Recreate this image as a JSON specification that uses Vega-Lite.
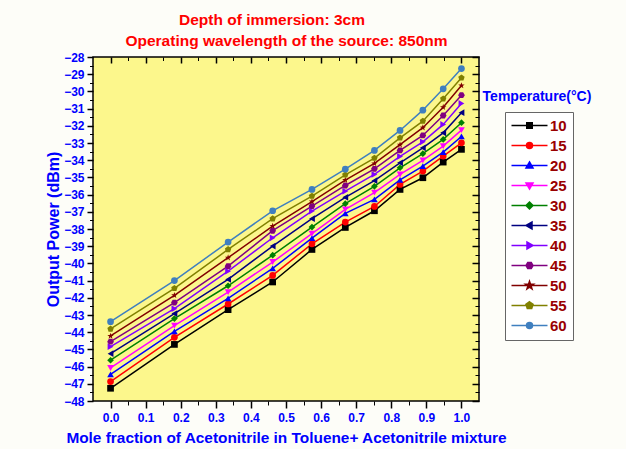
{
 "$schema": "https://vega.github.io/schema/vega-lite/v6.json",
 "width": 386,
 "height": 344,
 "autosize": {"type": "none"},
 "padding": {"left": 93, "top": 57, "right": 147, "bottom": 48},
 "background": "#FDFDF8",
 "config": {
  "view": {"fill": "#FCF78C", "stroke": "black", "strokeWidth": 1.5},
  "axis": {"grid": false, "domain": false, "tickColor": "black", "labelFont": "Liberation Sans", "labelFontWeight": "bold", "labelColor": "#0000FF", "titleColor": "#0000FF", "titleFont": "Liberation Sans", "titleFontWeight": "bold"}
 },
 "title": {"text": "Depth of immersion: 3cm", "color": "#FF0000", "font": "Liberation Sans", "fontSize": 15.5, "fontWeight": "bold", "anchor": "middle", "dx": -14, "offset": 4.5},
 "datasets": {
  "d": [
   {"T":10,"x":0,"y":-47.26},{"T":10,"x":0.182,"y":-44.71},{"T":10,"x":0.335,"y":-42.69},{"T":10,"x":0.462,"y":-41.08},{"T":10,"x":0.574,"y":-39.19},{"T":10,"x":0.669,"y":-37.91},{"T":10,"x":0.752,"y":-36.94},{"T":10,"x":0.825,"y":-35.70},{"T":10,"x":0.890,"y":-35.02},{"T":10,"x":0.948,"y":-34.11},{"T":10,"x":1,"y":-33.37},
   {"T":15,"x":0,"y":-46.87},{"T":15,"x":0.182,"y":-44.30},{"T":15,"x":0.335,"y":-42.36},{"T":15,"x":0.462,"y":-40.70},{"T":15,"x":0.574,"y":-38.86},{"T":15,"x":0.669,"y":-37.60},{"T":15,"x":0.752,"y":-36.69},{"T":15,"x":0.825,"y":-35.41},{"T":15,"x":0.890,"y":-34.63},{"T":15,"x":0.948,"y":-33.76},{"T":15,"x":1,"y":-32.99},
   {"T":20,"x":0,"y":-46.45},{"T":20,"x":0.182,"y":-43.95},{"T":20,"x":0.335,"y":-42.03},{"T":20,"x":0.462,"y":-40.29},{"T":20,"x":0.574,"y":-38.53},{"T":20,"x":0.669,"y":-37.09},{"T":20,"x":0.752,"y":-36.28},{"T":20,"x":0.825,"y":-35.14},{"T":20,"x":0.890,"y":-34.34},{"T":20,"x":0.948,"y":-33.53},{"T":20,"x":1,"y":-32.62},
   {"T":25,"x":0,"y":-46.08},{"T":25,"x":0.182,"y":-43.62},{"T":25,"x":0.335,"y":-41.67},{"T":25,"x":0.462,"y":-39.92},{"T":25,"x":0.574,"y":-38.27},{"T":25,"x":0.669,"y":-36.86},{"T":25,"x":0.752,"y":-35.89},{"T":25,"x":0.825,"y":-34.83},{"T":25,"x":0.890,"y":-34.01},{"T":25,"x":0.948,"y":-33.18},{"T":25,"x":1,"y":-32.25},
   {"T":30,"x":0,"y":-45.63},{"T":30,"x":0.182,"y":-43.21},{"T":30,"x":0.335,"y":-41.30},{"T":30,"x":0.462,"y":-39.52},{"T":30,"x":0.574,"y":-37.89},{"T":30,"x":0.669,"y":-36.53},{"T":30,"x":0.752,"y":-35.52},{"T":30,"x":0.825,"y":-34.44},{"T":30,"x":0.890,"y":-33.62},{"T":30,"x":0.948,"y":-32.79},{"T":30,"x":1,"y":-31.82},
   {"T":35,"x":0,"y":-45.25},{"T":35,"x":0.182,"y":-42.92},{"T":35,"x":0.335,"y":-40.93},{"T":35,"x":0.462,"y":-38.99},{"T":35,"x":0.574,"y":-37.40},{"T":35,"x":0.669,"y":-36.16},{"T":35,"x":0.752,"y":-35.19},{"T":35,"x":0.825,"y":-34.15},{"T":35,"x":0.890,"y":-33.28},{"T":35,"x":0.948,"y":-32.41},{"T":35,"x":1,"y":-31.24},
   {"T":40,"x":0,"y":-44.84},{"T":40,"x":0.182,"y":-42.63},{"T":40,"x":0.335,"y":-40.45},{"T":40,"x":0.462,"y":-38.51},{"T":40,"x":0.574,"y":-36.96},{"T":40,"x":0.669,"y":-35.80},{"T":40,"x":0.752,"y":-34.83},{"T":40,"x":0.825,"y":-33.78},{"T":40,"x":0.890,"y":-32.93},{"T":40,"x":0.948,"y":-31.92},{"T":40,"x":1,"y":-30.70},
   {"T":45,"x":0,"y":-44.55},{"T":45,"x":0.182,"y":-42.28},{"T":45,"x":0.335,"y":-40.16},{"T":45,"x":0.462,"y":-38.10},{"T":45,"x":0.574,"y":-36.67},{"T":45,"x":0.669,"y":-35.47},{"T":45,"x":0.752,"y":-34.50},{"T":45,"x":0.825,"y":-33.43},{"T":45,"x":0.890,"y":-32.56},{"T":45,"x":0.948,"y":-31.40},{"T":45,"x":1,"y":-30.22},
   {"T":50,"x":0,"y":-44.22},{"T":50,"x":0.182,"y":-41.86},{"T":50,"x":0.335,"y":-39.67},{"T":50,"x":0.462,"y":-37.83},{"T":50,"x":0.574,"y":-36.41},{"T":50,"x":0.669,"y":-35.16},{"T":50,"x":0.752,"y":-34.19},{"T":50,"x":0.825,"y":-33.10},{"T":50,"x":0.890,"y":-32.11},{"T":50,"x":0.948,"y":-30.92},{"T":50,"x":1,"y":-29.66},
   {"T":55,"x":0,"y":-43.81},{"T":55,"x":0.182,"y":-41.45},{"T":55,"x":0.335,"y":-39.19},{"T":55,"x":0.462,"y":-37.40},{"T":55,"x":0.574,"y":-36.09},{"T":55,"x":0.669,"y":-34.85},{"T":55,"x":0.752,"y":-33.88},{"T":55,"x":0.825,"y":-32.70},{"T":55,"x":0.890,"y":-31.73},{"T":55,"x":0.948,"y":-30.43},{"T":55,"x":1,"y":-29.21},
   {"T":60,"x":0,"y":-43.39},{"T":60,"x":0.182,"y":-41.00},{"T":60,"x":0.335,"y":-38.76},{"T":60,"x":0.462,"y":-36.94},{"T":60,"x":0.574,"y":-35.70},{"T":60,"x":0.669,"y":-34.52},{"T":60,"x":0.752,"y":-33.43},{"T":60,"x":0.825,"y":-32.27},{"T":60,"x":0.890,"y":-31.09},{"T":60,"x":0.948,"y":-29.85},{"T":60,"x":1,"y":-28.67}
  ]
 },
 "data": {"name": "d"},
 "layer": [
  {
   "mark": {"type": "line", "strokeWidth": 1.5},
   "encoding": {
    "x": {"field": "x", "type": "quantitative", "scale": {"domain": [-0.05, 1.05], "nice": false, "zero": false},
     "axis": {"orient": "bottom", "values": [0,0.1,0.2,0.3,0.4,0.5,0.6,0.7,0.8,0.9,1], "format": ".1f", "labelFontSize": 12, "tickSize": 7, "tickWidth": 1.5, "labelPadding": 4,
      "title": "Mole fraction of Acetonitrile in Toluene+ Acetonitrile mixture", "titleFontSize": 15.4, "titlePadding": 7}},
    "y": {"field": "y", "type": "quantitative", "scale": {"domain": [-48, -28], "nice": false, "zero": false},
     "axis": {"orient": "left", "values": [-48,-47,-46,-45,-44,-43,-42,-41,-40,-39,-38,-37,-36,-35,-34,-33,-32,-31,-30,-29,-28], "labelFontSize": 12, "tickSize": 6, "tickWidth": 1.5, "labelPadding": 3,
      "title": "Output Power (dBm)", "titleFontSize": 16, "titlePadding": 2}},
    "color": {"field": "T", "type": "nominal",
     "scale": {"domain": [10,15,20,25,30,35,40,45,50,55,60], "range": ["#000000","#FF0000","#0000FF","#FF00FF","#008000","#000080","#8000FF","#800080","#800000","#808000","#3F7FBF"]},
     "legend": null}
   }
  },
  {
   "mark": {"type": "point", "filled": true, "size": 45, "opacity": 1},
   "encoding": {
    "x": {"field": "x", "type": "quantitative", "scale": {"domain": [-0.05, 1.05], "nice": false, "zero": false},
     "axis": {"orient": "bottom", "values": [0.05,0.15,0.25,0.35,0.45,0.55,0.65,0.75,0.85,0.95], "labels": false, "tickSize": 4, "tickWidth": 1, "title": null}},
    "y": {"field": "y", "type": "quantitative", "scale": {"domain": [-48, -28], "nice": false, "zero": false},
     "axis": {"orient": "left", "values": [-47.5,-46.5,-45.5,-44.5,-43.5,-42.5,-41.5,-40.5,-39.5,-38.5,-37.5,-36.5,-35.5,-34.5,-33.5,-32.5,-31.5,-30.5,-29.5,-28.5], "labels": false, "tickSize": 3.5, "tickWidth": 1, "title": null}},
    "color": {"field": "T", "type": "nominal",
     "scale": {"domain": [10,15,20,25,30,35,40,45,50,55,60], "range": ["#000000","#FF0000","#0000FF","#FF00FF","#008000","#000080","#8000FF","#800080","#800000","#808000","#3F7FBF"]},
     "legend": null},
    "shape": {"field": "T", "type": "nominal",
     "scale": {"domain": [10,15,20,25,30,35,40,45,50,55,60], "range": ["square","circle","triangle-up","triangle-down","diamond","triangle-left","triangle-right","M1,0L0.5,0.866L-0.5,0.866L-1,0L-0.5,-0.866L0.5,-0.866Z","M0,-1L0.235,-0.324L0.951,-0.309L0.38,0.124L0.588,0.809L0,0.4L-0.588,0.809L-0.38,0.124L-0.951,-0.309L-0.235,-0.324Z","M0,-1L0.951,-0.309L0.588,0.809L-0.588,0.809L-0.951,-0.309Z","circle"]},
     "legend": null}
   }
  },
  {
   "transform": [{"filter": "false"}],
   "mark": {"type": "point", "filled": false, "opacity": 1, "strokeWidth": 1.5},
   "encoding": {
    "x": {"field": "x", "type": "quantitative", "scale": {"domain": [-0.05, 1.05], "nice": false, "zero": false},
     "axis": {"orient": "top", "values": [0,0.1,0.2,0.3,0.4,0.5,0.6,0.7,0.8,0.9,1], "labels": false, "tickSize": -6, "tickWidth": 1.5,
      "title": "Operating wavelength of the source: 850nm", "titleColor": "#FF0000", "titleFontSize": 15.5, "titleY": -12, "titleBaseline": "alphabetic"}},
    "y": {"field": "y", "type": "quantitative", "scale": {"domain": [-48, -28], "nice": false, "zero": false},
     "axis": {"orient": "right", "values": [-48,-47,-46,-45,-44,-43,-42,-41,-40,-39,-38,-37,-36,-35,-34,-33,-32,-31,-30,-29,-28], "labels": false, "tickSize": -7, "tickWidth": 1.5,
      "title": "Temperature(°C)", "titleAngle": 0, "titleX": 57.5, "titleY": 43, "titleAlign": "center", "titleBaseline": "alphabetic", "titleFontSize": 14}},
    "color": {"field": "T", "type": "nominal",
     "scale": {"domain": [10,15,20,25,30,35,40,45,50,55,60], "range": ["#000000","#FF0000","#0000FF","#FF00FF","#008000","#000080","#8000FF","#800080","#800000","#808000","#3F7FBF"]},
     "legend": {"title": null, "orient": "none", "legendX": 412, "legendY": 55, "padding": 6, "strokeColor": "#666666", "fillColor": "white",
      "symbolSize": 100, "symbolOffset": 11, "symbolStrokeWidth": 1.5, "labelOffset": 13, "rowPadding": 4,
      "labelFont": "Liberation Sans", "labelFontWeight": "bold", "labelFontSize": 15, "labelColor": "#990000"}},
    "shape": {"field": "T", "type": "nominal",
     "scale": {"domain": [10,15,20,25,30,35,40,45,50,55,60], "range": [
      "M-3.6,0H3.6M-0.55,-0.55H0.55V0.55H-0.55ZM-0.3,-0.3H0.3V0.3H-0.3ZM-0.05,-0.05H0.05V0.05H-0.05Z",
      "M-3.6,0H3.6M0.6,0A0.6,0.6,0,1,1,-0.6,0A0.6,0.6,0,1,1,0.6,0ZM0.35,0A0.35,0.35,0,1,1,-0.35,0A0.35,0.35,0,1,1,0.35,0ZM0.1,0A0.1,0.1,0,1,1,-0.1,0A0.1,0.1,0,1,1,0.1,0Z",
      "M-3.6,0H3.6M0,-0.7L0.7,0.5L-0.7,0.5ZM0,-0.26L0.315,0.28L-0.315,0.28ZM0,0.06L0.035,0.12L-0.035,0.12Z",
      "M-3.6,0H3.6M0,0.7L0.7,-0.5L-0.7,-0.5ZM0,0.26L0.315,-0.28L-0.315,-0.28ZM0,-0.06L0.035,-0.12L-0.035,-0.12Z",
      "M-3.6,0H3.6M0,-0.7L0.7,0L0,0.7L-0.7,0ZM0,-0.35L0.35,0L0,0.35L-0.35,0ZM0,-0.07L0.07,0L0,0.07L-0.07,0Z",
      "M-3.6,0H3.6M-0.7,0L0.5,-0.7L0.5,0.7ZM-0.26,0L0.28,-0.315L0.28,0.315ZM0.06,0L0.12,-0.035L0.12,0.035Z",
      "M-3.6,0H3.6M0.7,0L-0.5,-0.7L-0.5,0.7ZM0.26,0L-0.28,-0.315L-0.28,0.315ZM-0.06,0L-0.12,-0.035L-0.12,0.035Z",
      "M-3.6,0H3.6M0.7,0L0.35,0.606L-0.35,0.606L-0.7,0L-0.35,-0.606L0.35,-0.606ZM0.385,0L0.193,0.333L-0.193,0.333L-0.385,0L-0.193,-0.333L0.193,-0.333ZM0.105,0L0.053,0.091L-0.053,0.091L-0.105,0L-0.053,-0.091L0.053,-0.091Z",
      "M-3.6,0H3.6M0,-0.85L0.2,-0.275L0.808,-0.263L0.323,0.105L0.5,0.688L0,0.34L-0.5,0.688L-0.323,0.105L-0.808,-0.263L-0.2,-0.275ZM0,-0.34L0.08,-0.11L0.323,-0.105L0.129,0.042L0.2,0.275L0,0.136L-0.2,0.275L-0.129,0.042L-0.323,-0.105L-0.08,-0.11Z",
      "M-3.6,0H3.6M0,-0.75L0.713,-0.232L0.441,0.607L-0.441,0.607L-0.713,-0.232ZM0,-0.413L0.392,-0.127L0.243,0.334L-0.243,0.334L-0.392,-0.127ZM0,-0.113L0.107,-0.035L0.066,0.091L-0.066,0.091L-0.107,-0.035Z",
      "M-3.6,0H3.6M0.6,0A0.6,0.6,0,1,1,-0.6,0A0.6,0.6,0,1,1,0.6,0ZM0.35,0A0.35,0.35,0,1,1,-0.35,0A0.35,0.35,0,1,1,0.35,0ZM0.1,0A0.1,0.1,0,1,1,-0.1,0A0.1,0.1,0,1,1,0.1,0Z"]},
     "legend": {"title": null, "orient": "none", "legendX": 412, "legendY": 55, "padding": 6, "strokeColor": "#666666", "fillColor": "white",
      "symbolSize": 100, "symbolOffset": 11, "symbolStrokeWidth": 1.5, "labelOffset": 13, "rowPadding": 4,
      "labelFont": "Liberation Sans", "labelFontWeight": "bold", "labelFontSize": 15, "labelColor": "#990000"}}
   }
  },
  {
   "transform": [{"filter": "false"}],
   "mark": {"type": "point"},
   "encoding": {
    "x": {"field": "x", "type": "quantitative", "scale": {"domain": [-0.05, 1.05], "nice": false, "zero": false},
     "axis": {"orient": "top", "values": [0.05,0.15,0.25,0.35,0.45,0.55,0.65,0.75,0.85,0.95], "labels": false, "tickSize": -3.5, "tickWidth": 1, "title": null}},
    "y": {"field": "y", "type": "quantitative", "scale": {"domain": [-48, -28], "nice": false, "zero": false},
     "axis": {"orient": "right", "values": [-47.5,-46.5,-45.5,-44.5,-43.5,-42.5,-41.5,-40.5,-39.5,-38.5,-37.5,-36.5,-35.5,-34.5,-33.5,-32.5,-31.5,-30.5,-29.5,-28.5], "labels": false, "tickSize": -4, "tickWidth": 1, "title": null}}
   }
  }
 ],
 "resolve": {"scale": {"color": "independent", "shape": "independent"}, "axis": {"x": "independent", "y": "independent"}}
}
